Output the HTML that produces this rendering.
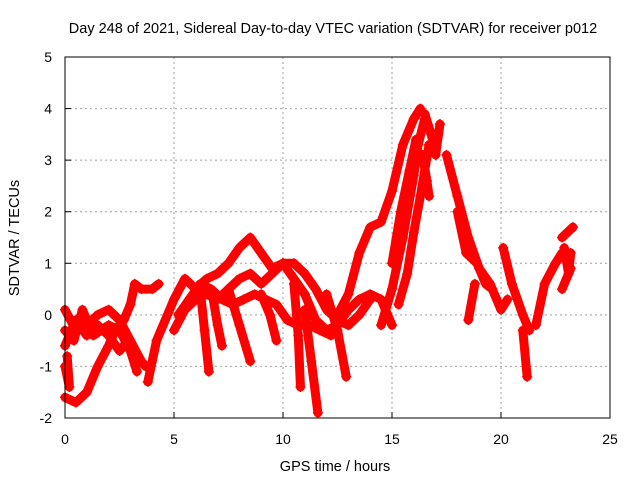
<!DOCTYPE html>
<html><head><meta charset="utf-8"><style>
body{margin:0;background:#fff}
svg{display:block;font-family:"Liberation Sans",sans-serif}
</style></head><body>
<svg width="640" height="480" id="c">
<text x="333" y="33" text-anchor="middle" font-size="14.5">Day 248 of 2021, Sidereal Day-to-day VTEC variation (SDTVAR) for receiver p012</text>
<text x="335" y="471" text-anchor="middle" font-size="14.5">GPS time / hours</text>
<text transform="translate(19,238) rotate(-90)" text-anchor="middle" font-size="14.5">SDTVAR / TECUs</text>
<g id="grid"></g><g id="ticks"></g><g id="marks"></g>
<rect x="65" y="57" width="545" height="361" fill="none" stroke="#000" stroke-width="1"/>
</svg>
<script>
const xTicks=[0,5,10,15,20,25];
const yTicks=[-2,-1,0,1,2,3,4,5];
const trackA=[[0,0.1],[0.5,-0.3],[1,-0.2],[1.5,0],[2,0.1],[2.5,-0.1],[3,-0.5],[3.5,-0.9],[3.7,-1.0]];
const trackB=[[0,-1.6],[0.5,-1.7],[1,-1.5],[1.5,-1.0],[2,-0.6],[2.3,-0.3],[2.7,-0.1],[3,0.2],[3.2,0.6],[3.5,0.5],[4,0.5],[4.3,0.6]];
const trackC=[[0,-0.3],[0.4,-0.5],[0.8,0.1],[1.3,-0.4],[2,-0.2],[2.5,-0.3],[3,-0.7],[3.3,-1.1]];
const trackC2=[[0,-0.6],[0.5,-0.1],[1,-0.4],[1.5,-0.2],[2,-0.4],[2.5,-0.7],[2.9,-0.5]];
const trackC3=[[0,-1.0],[0.2,-1.4],[0.1,-0.8]];
const trackD=[[3.8,-1.3],[4.2,-0.5],[4.7,0],[5,0.3],[5.5,0.7],[6,0.5],[6.5,0.7],[7,0.8],[7.5,1.0],[8,1.3],[8.5,1.5],[9,1.2],[9.5,0.9],[10,1.0],[10.5,0.7],[11,0.4],[11.5,-0.1],[12,-0.3],[12.5,-0.2],[13,0.1],[13.5,0.3],[14,0.4],[14.5,0.3],[15,-0.2]];
const trackE=[[5,-0.3],[5.5,0.1],[6,0.3],[6.5,0.4],[7,0.3],[7.5,0.5],[8,0.7],[8.5,0.8],[9,0.6],[9.5,0.8],[10,1.0],[10.5,1.0],[11,0.8],[11.5,0.5],[12,0.1],[12.5,-0.1],[13,-0.2],[13.5,0],[14,0.3]];
const trackF=[[5.2,0],[5.7,0.3],[6.2,0.6],[6.7,0.5],[7.2,0.3],[7.7,0.2],[8.2,0.3],[8.7,0.4],[9.2,0.3],[9.7,0.2],[10.2,-0.1],[10.7,-0.2],[11.2,-0.2],[11.7,-0.3],[12.2,-0.4]];
const dip1=[[6.2,0.5],[6.4,-0.3],[6.6,-1.1]];
const dip2=[[6.8,0.3],[7,-0.2],[7.2,-0.6]];
const dip3=[[7.5,0.5],[8,-0.2],[8.5,-0.9]];
const dip4=[[9,0.4],[9.4,0],[9.7,-0.5]];
const dip5=[[10.5,0.6],[10.7,-0.4],[10.8,-1.4]];
const dip6=[[11,0.1],[11.3,-0.9],[11.6,-1.9]];
const dip7=[[12,0.4],[12.5,-0.3],[12.9,-1.2]];
const trackG=[[12.5,0],[13,0.4],[13.5,1.2],[14,1.7],[14.5,1.8],[15,2.4],[15.5,3.3],[16,3.8],[16.3,4.0]];
const trackH=[[14.5,-0.2],[15,0.5],[15.5,1.5],[16,2.7],[16.2,3.3],[16.5,3.8]];
const trackI=[[15.3,0.2],[15.7,0.8],[16,1.6],[16.3,2.3],[16.7,3.3]];
const trackI2=[[15,1.0],[15.4,2.0],[15.8,2.8],[16.1,3.4]];
const trackJ=[[16.5,3.9],[16.8,3.5],[17,3.1],[17.2,3.7]];
const trackJ2=[[16.4,3.1],[16.6,2.6],[16.7,2.3]];
const trackK=[[17.5,3.1],[18,2.3],[18.5,1.5],[19,0.9],[19.5,0.6],[20,0.1],[20.3,0.3]];
const trackK2=[[18,2.0],[18.4,1.2],[18.9,1.0],[19.3,0.6],[19.6,0.5]];
const trackL=[[20.1,1.3],[20.5,0.6],[21,0],[21.3,-0.3]];
const trackM=[[21.6,-0.2],[22,0.6],[22.5,1.0],[22.8,1.2]];
const trackN=[[22.8,1.5],[23.3,1.7]];
const trackO=[[22.8,0.5],[23.2,0.9]];
const trackO2=[[22.9,1.3],[23.1,0.8],[23.2,1.2]];
const trackP=[[18.5,-0.1],[18.8,0.6]];
const trackQ=[[21,-0.3],[21.2,-1.2]];
const tracks=[trackA,trackB,trackC,trackC2,trackC3,trackD,trackE,trackF,dip1,dip2,dip3,dip4,dip5,dip6,dip7,trackG,trackH,trackI,trackI2,trackJ,trackJ2,trackK,trackK2,trackL,trackM,trackN,trackO,trackO2,trackP,trackQ];
const NS="http://www.w3.org/2000/svg";
const X=h=>65+h*545/25, Y=v=>57+(5-v)*361/7;
const grid=document.getElementById('grid'),ticks=document.getElementById('ticks'),marks=document.getElementById('marks');
function mk(tag,at,parent){const e=document.createElementNS(NS,tag);for(const k in at)e.setAttribute(k,at[k]);parent.appendChild(e);return e;}
xTicks.forEach(t=>{
 if(t>0&&t<25){const g=mk('line',{x1:X(t),x2:X(t),y1:57,y2:418,stroke:'#a0a0a0','stroke-dasharray':'2,3'},grid);
 
 }
 const l=mk('text',{x:X(t),y:444,'text-anchor':'middle','font-size':'14'},ticks);l.textContent=t;
 
 
 mk('line',{x1:X(t),x2:X(t),y1:418,y2:412,stroke:'#000'},ticks);
});
yTicks.forEach(t=>{
 if(t>-2&&t<5){const g=mk('line',{x1:65,x2:610,y1:Y(t),y2:Y(t),stroke:'#a0a0a0','stroke-dasharray':'2,3'},grid);
 
 }
 const l=mk('text',{x:52,y:Y(t)+5,'text-anchor':'end','font-size':'14'},ticks);l.textContent=t;
 
 
 mk('line',{x1:65,x2:71,y1:Y(t),y2:Y(t),stroke:'#000'},ticks);
});
tracks.forEach(tr=>{
 const p=mk('polyline',{points:tr.map(d=>X(d[0])+','+Y(d[1])).join(' '),fill:'none',stroke:'#ff0000','stroke-width':'9','stroke-linejoin':'round','stroke-linecap':'round'},marks);
 
 
 tr.forEach(d=>{
  const m=mk('path',{d:`M${X(d[0])-5},${Y(d[1])}h10M${X(d[0])},${Y(d[1])-5}v10`,stroke:'#ff0000','stroke-width':'1.5'},marks);
  
  
 });
});
</script>
</body></html>
